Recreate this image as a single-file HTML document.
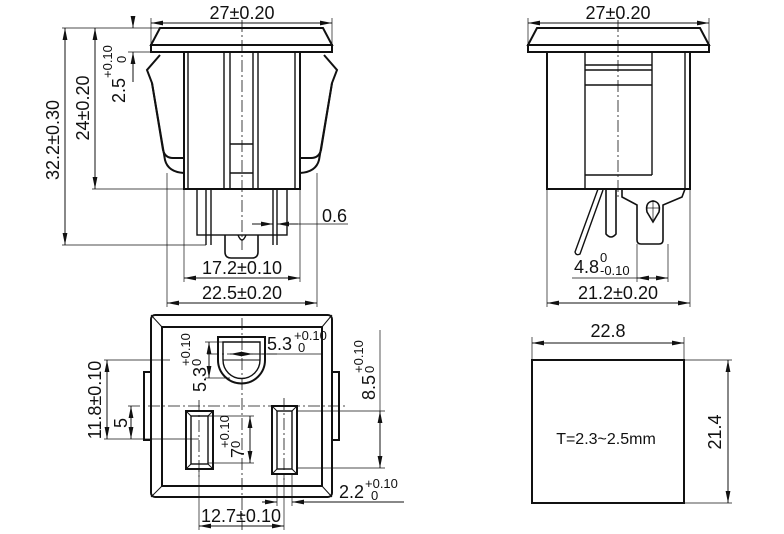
<!DOCTYPE html>
<html><head><meta charset="utf-8"><style>html,body{margin:0;padding:0;background:#fff}svg{display:block}</style></head><body>
<svg width="784" height="534" viewBox="0 0 784 534" xmlns="http://www.w3.org/2000/svg" font-family="Liberation Sans, sans-serif" fill="none" stroke="#111">
<defs>
<marker id="a" viewBox="0 0 12 6" refX="12" refY="3" markerWidth="12" markerHeight="6" markerUnits="userSpaceOnUse" orient="auto-start-reverse"><path d="M0,0.6L12,3L0,5.4z" fill="#111" stroke="none"/></marker>
</defs>
<g stroke-width="1">
<line x1="151" y1="23" x2="332" y2="23" marker-start="url(#a)" marker-end="url(#a)"/>
<line x1="151" y1="18" x2="151" y2="45" stroke-width="0.7"/><line x1="332" y1="18" x2="332" y2="45" stroke-width="0.7"/>
<g stroke-width="2">
<path d="M160,28 L323,28 L332,45 L151,45 Z"/>
<rect x="151" y="45" width="181" height="7"/>
<rect x="184" y="52" width="116" height="137"/>
<path d="M160,55 L147,70 L152,83 L163,150 Q165,158 173,158 L184,158"/>
<path d="M152,83 L165,160 Q168,172 184,173"/>
<path d="M324,55 L337,70 L332,83 L321,150 Q319,158 311,158 L300,158"/>
<path d="M332,83 L319,160 Q316,172 300,173"/>
<rect x="197" y="189" width="90" height="46" stroke-width="1.4"/>
<path d="M225,235 L225,252 Q225,258 231,258 L252,258 Q258,258 258,252 L258,235" stroke-width="1.6"/>
</g>
<g stroke-width="1.4">
<line x1="188" y1="52" x2="188" y2="189"/><line x1="224" y1="52" x2="224" y2="189"/><line x1="230" y1="52" x2="230" y2="189"/>
<line x1="253" y1="52" x2="253" y2="189"/><line x1="258" y1="52" x2="258" y2="189"/><line x1="295" y1="52" x2="295" y2="189"/>
<line x1="230" y1="144" x2="253" y2="144"/><line x1="230" y1="173" x2="253" y2="173"/>
<line x1="206" y1="189" x2="206" y2="245"/><line x1="211" y1="189" x2="211" y2="245"/>
<line x1="273" y1="189" x2="273" y2="245"/><line x1="277" y1="189" x2="277" y2="245"/>
<path d="M238,235 Q242,245 246,235"/>
</g>
<line x1="242" y1="20" x2="242" y2="250" stroke-dasharray="12,3,2,3" stroke-width="0.8"/>
<line x1="62" y1="28" x2="160" y2="28" stroke-width="0.7"/>
<line x1="128" y1="52" x2="151" y2="52" stroke-width="0.7"/>
<line x1="92" y1="189" x2="184" y2="189" stroke-width="0.7"/>
<line x1="62" y1="245" x2="206" y2="245" stroke-width="0.7"/>
<line x1="65" y1="28" x2="65" y2="245" marker-start="url(#a)" marker-end="url(#a)"/>
<line x1="95" y1="28" x2="95" y2="189" marker-start="url(#a)" marker-end="url(#a)"/>
<line x1="133" y1="16" x2="133" y2="28" marker-end="url(#a)"/>
<line x1="133" y1="82" x2="133" y2="52" marker-end="url(#a)"/>
<line x1="252" y1="224" x2="273" y2="224" marker-end="url(#a)"/>
<line x1="298" y1="224" x2="277" y2="224" marker-end="url(#a)"/>
<line x1="277" y1="224" x2="348" y2="224" stroke-width="0.7"/>
<line x1="184" y1="189" x2="184" y2="282" stroke-width="0.7"/><line x1="300" y1="189" x2="300" y2="282" stroke-width="0.7"/>
<line x1="184" y1="278" x2="300" y2="278" marker-start="url(#a)" marker-end="url(#a)"/>
<line x1="167" y1="173" x2="167" y2="307" stroke-width="0.7"/><line x1="317" y1="173" x2="317" y2="307" stroke-width="0.7"/>
<line x1="167" y1="303" x2="317" y2="303" marker-start="url(#a)" marker-end="url(#a)"/>

<line x1="528" y1="23" x2="709" y2="23" marker-start="url(#a)" marker-end="url(#a)"/>
<line x1="528" y1="18" x2="528" y2="45" stroke-width="0.7"/><line x1="709" y1="18" x2="709" y2="45" stroke-width="0.7"/>
<g stroke-width="2">
<path d="M537,28 L700,28 L709,45 L528,45 Z"/>
<rect x="528" y="45" width="181" height="7"/>
<rect x="547" y="52" width="143" height="137"/>
<path d="M622,189 L622,197 L637,205 L637,240 Q637,244 641,244 L659,244 Q663,244 663,240 L663,205 L682,197 L685,189" stroke-width="1.6"/>
<path d="M606,190 L606,234 Q611,240 616,234 L616,190" stroke-width="1.6"/>
<path d="M598,189 L575,252 Q576,256 580,254 L603,190" stroke-width="1.4"/>
<path d="M653,222 L647,212 Q645,202 653,201 Q661,202 659,212 Z" stroke-width="1.6"/>
</g>
<g stroke-width="1.4">
<line x1="585" y1="52" x2="585" y2="189"/><line x1="685" y1="52" x2="685" y2="189"/>
<line x1="652" y1="52" x2="652" y2="175"/><line x1="585" y1="175" x2="652" y2="175"/>
<line x1="585" y1="65" x2="652" y2="65"/><line x1="585" y1="70" x2="652" y2="70"/><line x1="585" y1="85" x2="652" y2="85"/>
</g>
<line x1="618" y1="20" x2="618" y2="200" stroke-dasharray="12,3,2,3" stroke-width="0.8"/>
<line x1="647" y1="208" x2="659" y2="208" stroke-width="0.7"/><line x1="653" y1="200" x2="653" y2="220" stroke-width="0.7"/>
<line x1="637" y1="244" x2="637" y2="282" stroke-width="0.7"/><line x1="668" y1="244" x2="668" y2="282" stroke-width="0.7"/>
<line x1="572" y1="278" x2="668" y2="278" stroke-width="0.7"/>
<line x1="637" y1="278" x2="668" y2="278" marker-start="url(#a)" marker-end="url(#a)"/>
<line x1="547" y1="189" x2="547" y2="307" stroke-width="0.7"/><line x1="690" y1="189" x2="690" y2="307" stroke-width="0.7"/>
<line x1="547" y1="303" x2="690" y2="303" marker-start="url(#a)" marker-end="url(#a)"/>

<g stroke-width="2">
<rect x="151" y="315" width="181" height="182" rx="4"/>
<rect x="162" y="327" width="160" height="159"/>
<rect x="144" y="372" width="7" height="68"/>
<rect x="332" y="372" width="7" height="68"/>
<path d="M218,337 L265,337 L265,360 A23.5,23.5 0 0 1 218,360 Z"/>
<path d="M223,342 L260,342 L260,360 A18.5,18.5 0 0 1 223,360 Z" stroke-width="1.4"/>
<rect x="186" y="411" width="27" height="58"/>
<rect x="191" y="416" width="17" height="48" stroke-width="1.4"/>
<rect x="272" y="406" width="25" height="68"/>
<rect x="277" y="411" width="15" height="58" stroke-width="1.4"/>
</g>
<g stroke-width="1">
<line x1="151" y1="315" x2="162" y2="327"/><line x1="332" y1="315" x2="322" y2="327"/>
<line x1="151" y1="497" x2="162" y2="486"/><line x1="332" y1="497" x2="322" y2="486"/>
<line x1="186" y1="411" x2="191" y2="416"/><line x1="213" y1="411" x2="208" y2="416"/><line x1="186" y1="469" x2="191" y2="464"/><line x1="213" y1="469" x2="208" y2="464"/>
<line x1="272" y1="406" x2="277" y2="411"/><line x1="297" y1="406" x2="292" y2="411"/><line x1="272" y1="474" x2="277" y2="469"/><line x1="297" y1="474" x2="292" y2="469"/>
<line x1="223" y1="360" x2="260" y2="360"/>
</g>
<g stroke-dasharray="12,3,2,3" stroke-width="0.8">
<line x1="242" y1="318" x2="242" y2="530"/>
<line x1="128" y1="406" x2="348" y2="406"/>
<line x1="199" y1="400" x2="199" y2="480"/>
<line x1="284" y1="398" x2="284" y2="480"/>
<line x1="207" y1="354" x2="277" y2="354"/>
</g>
<line x1="104" y1="360" x2="170" y2="360" stroke-width="0.7"/>
<line x1="104" y1="439" x2="199" y2="439" stroke-width="0.7"/>
<line x1="107" y1="360" x2="107" y2="439" marker-start="url(#a)" marker-end="url(#a)"/>
<line x1="131" y1="406" x2="131" y2="439" marker-start="url(#a)" marker-end="url(#a)"/>
<line x1="208" y1="416" x2="254" y2="416" stroke-width="0.7"/><line x1="208" y1="463" x2="254" y2="463" stroke-width="0.7"/>
<line x1="250" y1="416" x2="250" y2="463" marker-start="url(#a)" marker-end="url(#a)"/>
<line x1="205" y1="342" x2="223" y2="342" stroke-width="0.7"/><line x1="205" y1="378" x2="230" y2="378" stroke-width="0.7"/>
<line x1="209" y1="342" x2="209" y2="378" marker-start="url(#a)" marker-end="url(#a)"/>
<line x1="230" y1="354" x2="253" y2="354" marker-start="url(#a)" marker-end="url(#a)"/>
<line x1="253" y1="354" x2="322" y2="354" stroke-width="0.7"/>
<line x1="297" y1="411" x2="385" y2="411" stroke-width="0.7"/><line x1="297" y1="468" x2="385" y2="468" stroke-width="0.7"/>
<line x1="380" y1="330" x2="380" y2="468" stroke-width="0.7"/>
<line x1="380" y1="440" x2="380" y2="411" marker-end="url(#a)"/>
<line x1="380" y1="440" x2="380" y2="468" marker-end="url(#a)"/>
<line x1="199" y1="469" x2="199" y2="530" stroke-width="0.7"/><line x1="284" y1="474" x2="284" y2="530" stroke-width="0.7"/>
<line x1="199" y1="526" x2="284" y2="526" marker-start="url(#a)" marker-end="url(#a)"/>
<line x1="277" y1="474" x2="277" y2="506" stroke-width="0.7"/><line x1="292" y1="474" x2="292" y2="506" stroke-width="0.7"/>
<line x1="262" y1="502" x2="277" y2="502" marker-end="url(#a)"/>
<line x1="404" y1="502" x2="292" y2="502" marker-end="url(#a)"/>

<rect x="532" y="360" width="152" height="143" stroke-width="2"/>
<line x1="532" y1="337" x2="532" y2="360" stroke-width="0.7"/><line x1="684" y1="337" x2="684" y2="360" stroke-width="0.7"/>
<line x1="532" y1="343" x2="684" y2="343" marker-start="url(#a)" marker-end="url(#a)"/>
<line x1="684" y1="360" x2="732" y2="360" stroke-width="0.7"/><line x1="684" y1="503" x2="732" y2="503" stroke-width="0.7"/>
<line x1="728" y1="360" x2="728" y2="503" marker-start="url(#a)" marker-end="url(#a)"/>
</g>

<g fill="#111" stroke="none" font-size="18">
<text x="242" y="19" text-anchor="middle">27±0.20</text>
<text x="618" y="19" text-anchor="middle">27±0.20</text>
<text transform="translate(59,140) rotate(-90)" text-anchor="middle">32.2±0.30</text>
<text transform="translate(89,108) rotate(-90)" text-anchor="middle">24±0.20</text>
<text transform="translate(125,103) rotate(-90)">2.5</text>
<text transform="translate(112,78) rotate(-90)" font-size="13">+0.10</text>
<text transform="translate(126,63) rotate(-90)" font-size="13">0</text>
<text x="322" y="222">0.6</text>
<text x="242" y="274" text-anchor="middle">17.2±0.10</text>
<text x="242" y="299" text-anchor="middle">22.5±0.20</text>
<text x="574" y="273">4.8</text>
<text x="600" y="262" font-size="13">0</text>
<text x="600" y="275" font-size="13">-0.10</text>
<text x="618" y="299" text-anchor="middle">21.2±0.20</text>
<text x="267" y="350">5.3</text>
<text x="294" y="340" font-size="13">+0.10</text>
<text x="298" y="352" font-size="13">0</text>
<text transform="translate(206,392) rotate(-90)">5.3</text>
<text transform="translate(190,366) rotate(-90)" font-size="13">+0.10</text>
<text transform="translate(201,366) rotate(-90)" font-size="13">0</text>
<text transform="translate(101,400) rotate(-90)" text-anchor="middle">11.8±0.10</text>
<text transform="translate(127,423) rotate(-90)" text-anchor="middle">5</text>
<text transform="translate(244,458) rotate(-90)">7</text>
<text transform="translate(229,448) rotate(-90)" font-size="13">+0.10</text>
<text transform="translate(240,448) rotate(-90)" font-size="13">0</text>
<text transform="translate(375,400) rotate(-90)">8.5</text>
<text transform="translate(363,373) rotate(-90)" font-size="13">+0.10</text>
<text transform="translate(374,373) rotate(-90)" font-size="13">0</text>
<text x="339" y="498">2.2</text>
<text x="365" y="488" font-size="13">+0.10</text>
<text x="371" y="500" font-size="13">0</text>
<text x="241" y="522" text-anchor="middle">12.7±0.10</text>
<text x="608" y="337" text-anchor="middle">22.8</text>
<text transform="translate(721,432) rotate(-90)" text-anchor="middle">21.4</text>
<text x="606" y="444" text-anchor="middle" font-size="16">T=2.3~2.5mm</text>
</g>
</svg>
</body></html>
